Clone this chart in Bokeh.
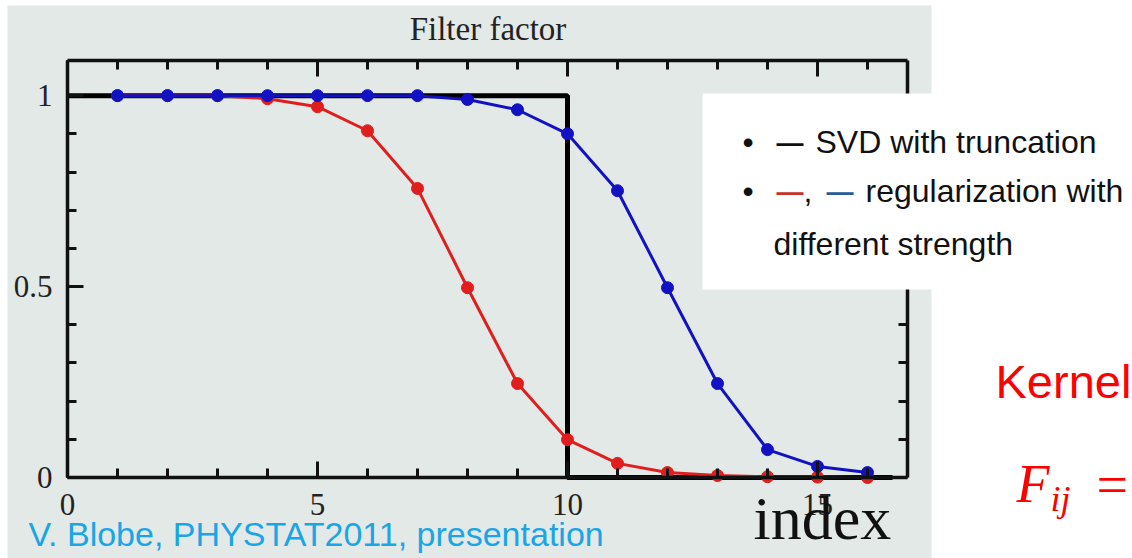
from bokeh.plotting import figure
from bokeh.models import (Range1d, LinearAxis, FixedTicker, BoxAnnotation, Label)
from bokeh.embed import file_html
from bokeh.resources import INLINE

# ---- data ----
index = list(range(1, 17))
red_strong = [1.0, 1.0, 1.0, 0.992, 0.971, 0.908, 0.757, 0.497, 0.246, 0.099,
              0.037, 0.013, 0.005, 0.002, 0.001, 0.0]
blue_weak = [1.0, 1.0, 1.0, 1.0, 1.0, 1.0, 1.0, 0.99, 0.963, 0.900,
             0.751, 0.497, 0.246, 0.073, 0.029, 0.013]
svd_x = [0, 10, 10, 16.5]
svd_y = [1, 1, 0, 0]
x_major = [0, 5, 10, 15]
x_minor = list(range(0, 17))
y_major = [0, 0.5, 1]
y_minor = [0.1, 0.2, 0.3, 0.4, 0.6, 0.7, 0.8, 0.9]
y_labels = {0: "0", 0.5: "0.5", 1: "1"}
X_MAX = 16.8
Y_MAX = 1.092

GRAY = "#e2e9e6"
RED = "#e01e1e"
BLUE = "#1212c2"
INK = "#111111"
SERIF = "Liberation Serif"
SANS = "Liberation Sans"

# pixel -> data helpers for placing annotations
X0, XS = 67, 50.0
Y0, YS = 477, 417 / Y_MAX


def X(px):
    return (px - X0) / XS


def Y(py):
    return (Y0 - py) / YS


p = figure(width=1132, height=558,
           x_range=Range1d(X(0), X(1132)), y_range=Range1d(Y(558), Y(0)),
           output_backend="svg", toolbar_location=None,
           x_axis_location=None, y_axis_location=None, min_border=0)
p.outline_line_color = None
p.background_fill_color = "white"
p.border_fill_color = "white"
p.grid.visible = False

# gray slide-image background
p.add_layout(BoxAnnotation(left=X(7), right=X(931), top=Y(5), bottom=Y(560),
                           fill_color=GRAY, fill_alpha=1.0, line_color=None, level="underlay"))


def make_axis(ticker, loc, bounds, minor_in=9, line=True):
    ax = LinearAxis(ticker=ticker, fixed_location=loc, bounds=bounds)
    ax.axis_line_width = 3.5
    ax.axis_line_color = INK if line else None
    ax.major_tick_line_width = 3
    ax.minor_tick_line_width = 3
    ax.major_tick_line_color = INK
    ax.minor_tick_line_color = INK
    ax.major_tick_in = 16
    ax.major_tick_out = 0
    ax.minor_tick_in = minor_in
    ax.minor_tick_out = 0
    ax.major_label_text_font = SERIF
    ax.major_label_text_font_size = "31px"
    ax.major_label_text_color = "#222222"
    return ax


xt = FixedTicker(ticks=x_major, minor_ticks=x_minor)
yt = FixedTicker(ticks=y_major, minor_ticks=y_minor)

bottom = make_axis(xt, 0, (0, X_MAX))
bottom.major_label_standoff = 16
p.add_layout(bottom, "below")

left = make_axis(yt, 0, (0, Y_MAX))
left.major_label_overrides = y_labels
left.major_label_standoff = 15
p.add_layout(left, "left")

# top and right frame axes: unlabeled (ticks only)
p.add_layout(make_axis(FixedTicker(ticks=[], minor_ticks=x_minor), Y_MAX, (0, X_MAX)), "above")
p.add_layout(make_axis(FixedTicker(ticks=[], minor_ticks=x_major), Y_MAX, (0, X_MAX),
                       minor_in=16, line=False), "above")
p.add_layout(make_axis(FixedTicker(ticks=[], minor_ticks=y_minor), X_MAX, (0, Y_MAX)), "right")
p.add_layout(make_axis(FixedTicker(ticks=[], minor_ticks=y_major), X_MAX, (0, Y_MAX),
                       minor_in=16, line=False), "right")

# data
p.line(svd_x, svd_y, line_color="black", line_width=5)
p.line(index, red_strong, line_color=RED, line_width=3)
p.scatter(index, red_strong, size=12, fill_color=RED, line_color=RED)
p.line(index, blue_weak, line_color=BLUE, line_width=3)
p.scatter(index, blue_weak, size=12, fill_color=BLUE, line_color=BLUE)


def lab(px, py, text, color=INK, size=32, font=SANS, style="normal", align="left"):
    # py is the wanted baseline in pixels; the label is anchored near its cap centre
    p.add_layout(Label(x=X(px), y=Y(py - 0.36 * size), text=text, text_font=font,
                       text_font_size=f"{size}px", text_color=color,
                       text_baseline="alphabetic", text_align=align,
                       text_font_style=style))


# title and axis title
lab(487.5, 40, "Filter factor", color="#222222", size=33, font=SERIF, align="center")
lab(753, 540, "index", size=62, font=SERIF)

# white legend box (covers part of the right frame)
p.add_layout(BoxAnnotation(left=X(702), right=X(1140), top=Y(93), bottom=Y(289),
                           fill_color="white", fill_alpha=1.0, line_color=None))

lab(742, 153, "\u2022")
lab(776, 152, "\u2014", size=27, style="bold")
lab(815, 153, "SVD with truncation")
lab(742, 202, "\u2022")
lab(776, 201, "\u2014", color="#c8342a", size=27, style="bold")
lab(803, 202, ",")
lab(826, 201, "\u2014", color="#2a5c9a", size=27, style="bold")
lab(865, 202, "regularization with")
lab(773, 255, "different strength")

# right-hand slide text
lab(995, 398, "Kernel", color="#ff0000", size=47)
lab(1016, 503, "F", color="#ff0000", size=54, font=SERIF, style="italic")
lab(1050, 511, "ij", color="#ff0000", size=36, font=SERIF, style="italic")
lab(1096, 505, "=", color="#ff0000", size=56, font=SERIF)

# bottom citation
lab(28, 546, "V. Blobe, PHYSTAT2011, presentation", color="#19a5e6", size=34)

open("out.html", "w").write(file_html(p, INLINE))
